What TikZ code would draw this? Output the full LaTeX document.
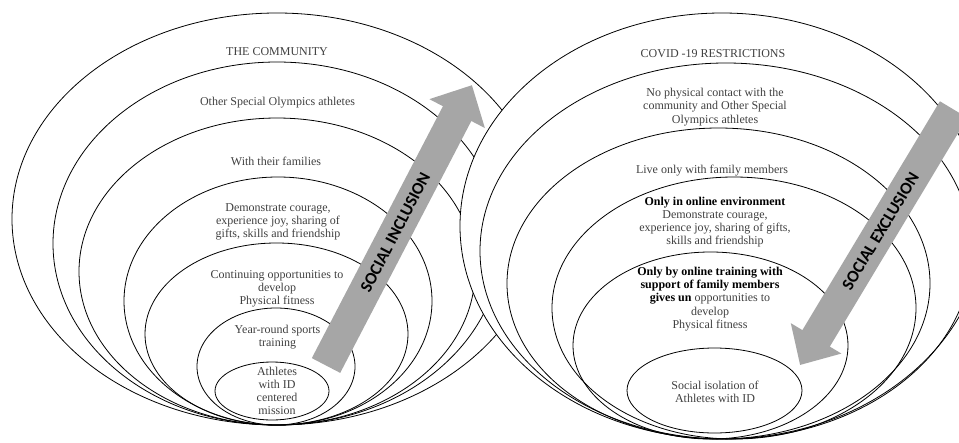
\documentclass[tikz,border=0pt]{standalone}
\usepackage{fontspec}
\setmainfont{Liberation Serif}
\newfontfamily\arrowfont{Carlito}
\begin{document}
\begin{tikzpicture}[x=1pt,y=-1pt,ring/.style={draw=black,line width=0.8pt},ringW/.style={ring,fill=white},lbl/.style={align=center,inner sep=0pt,text=black!75,font=\fontsize{12}{13.2}\selectfont},band/.style={fill=gray!70},bandlbl/.style={transform shape,inner sep=0pt,text=black,font=\arrowfont\bfseries\fontsize{17}{17}\selectfont}]
\def\lc{277};
\def\w{16};

\useasboundingbox (0,0) rectangle (959,442);
\clip (0,0) rectangle (959,442);

\draw[ring] (\lc,219) ellipse [x radius=265,y radius=206];
\draw[ring] (\lc,243.5) ellipse [x radius=224,y radius=181.5];
\draw[ring] (\lc,271.5) ellipse [x radius=198,y radius=153.5];
\draw[ring] (278,301) ellipse [x radius=154,y radius=124];
\draw[ring] (276.5,334) ellipse [x radius=131.5,y radius=91];
\draw[ring] (276,366.5) ellipse [x radius=79,y radius=58.5];
\draw[ring] (272,391) ellipse [x radius=57,y radius=29];

\draw[ringW] (722,226) ellipse [x radius=262,y radius=213];
\draw[ring] (726,251) ellipse [x radius=246,y radius=188];
\draw[ring] (718.5,283.5) ellipse [x radius=211.5,y radius=155.5];
\draw[ring] (734,308) ellipse [x radius=182,y radius=131];
\draw[ring] (710.5,345.5) ellipse [x radius=137.5,y radius=93.5];
\draw[ring] (714.5,390.5) ellipse [x radius=87.5,y radius=42.5];

\node[lbl] (comm) at (277,52) {THE COMMUNITY};
\node[lbl] (others) at (277.5,103) {Other Special Olympics athletes};
\node[lbl] (fam) at (276,161) {With their families};
\node[lbl] (demo) at (278,222) {Demonstrate courage,\\experience joy, sharing of\\gifts, skills and friendship};
\node[lbl] (cont) at (277,289) {Continuing opportunities to\\develop\\Physical fitness};
\node[lbl] (year) at (277.5,337.5) {Year-round sports\\training};
\node[lbl] (ath) at (277,391) {Athletes\\with ID\\centered\\mission};

\node[lbl] (covid) at (713,54) {COVID -19 RESTRICTIONS};
\node[lbl] (nocont) at (715,107) {No physical contact with the\\community and Other Special\\Olympics athletes};
\node[lbl] (live) at (712,171) {Live only with family members};
\node[lbl] (online) at (715,222) {\textcolor{black}{\bfseries Only in online environment}\\Demonstrate courage,\\experience joy, sharing of gifts,\\skills and friendship};
\node[lbl] (train) at (710,299) {\textcolor{black}{\bfseries Only by online training with}\\\textcolor{black}{\bfseries support of family members}\\\textcolor{black}{\bfseries gives un} opportunities to\\develop\\Physical fitness};
\node[lbl] (iso) at (715,391.5) {Social isolation of\\Athletes with ID};

\begin{scope}[shift={(326,365.5)},rotate=62.5]
\fill[band] (0,-\w) -- (284,-\w) -- (284,-31.3) -- (316,0) -- (284,31.3) -- (284,\w) -- (0,\w) -- cycle;
\node[bandlbl] (incl) at (150,0) {SOCIAL INCLUSION};
\end{scope}

\begin{scope}[shift={(953.6,109.5)},rotate=239]
\fill[band] (0,-\w) -- (267,-\w) -- (267,-29.5) -- (298,0) -- (267,29.5) -- (267,\w) -- (0,\w) -- cycle;
\node[bandlbl,rotate=180] (excl) at (142,0) {SOCIAL EXCLUSION};
\end{scope}
\end{tikzpicture}
\end{document}
